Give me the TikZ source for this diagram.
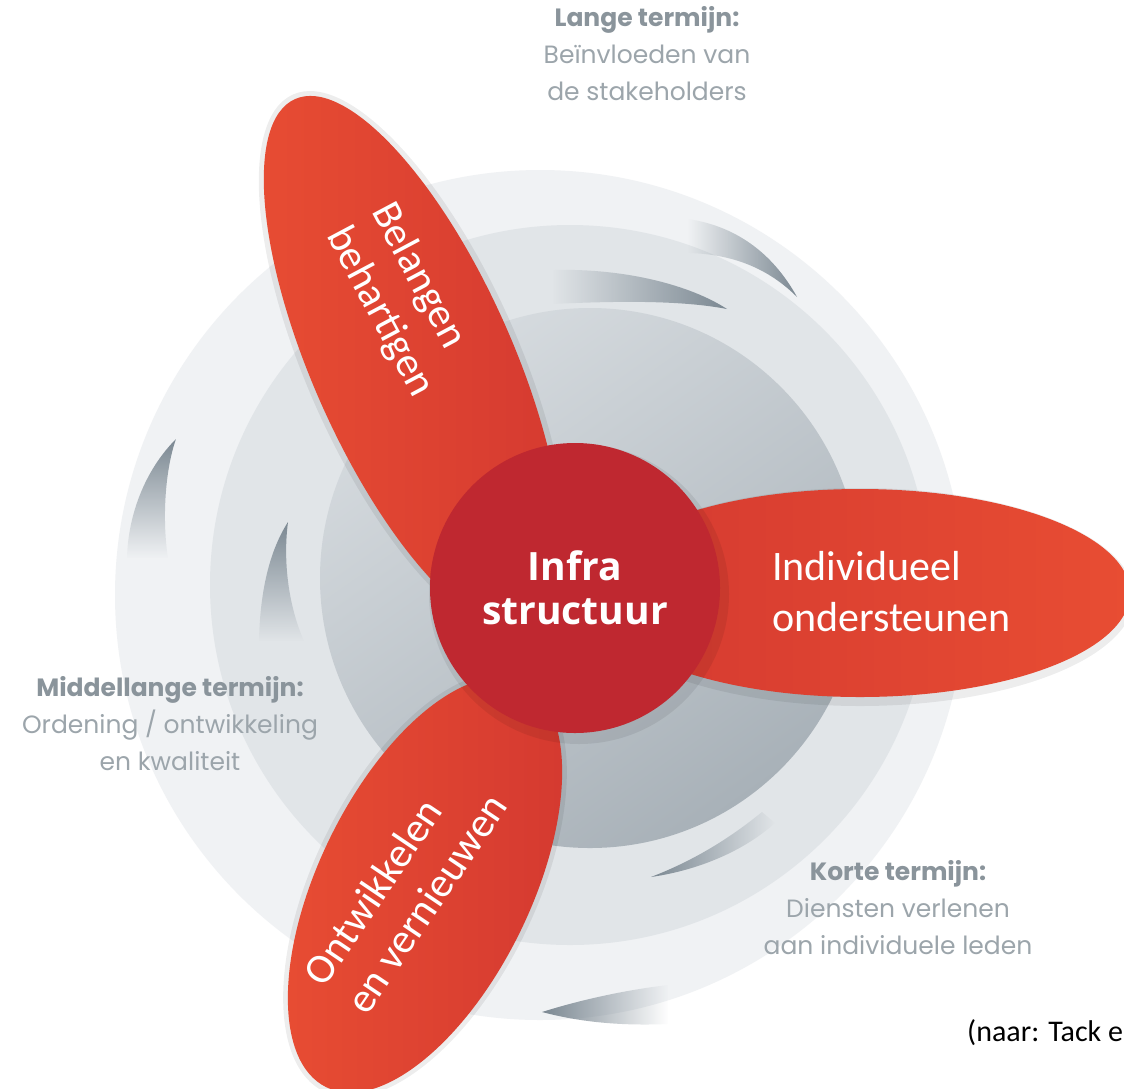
\documentclass[tikz,border=0pt]{standalone}
\usepackage{fontspec}
\setmainfont{Carlito}
\newfontfamily\termfont{Poppins}
\newfontfamily\hubfont{Open Sans}
\usetikzlibrary{fadings}
\definecolor{petalred}{HTML}{E84D33}
\definecolor{petaldeep}{HTML}{D43930}
\definecolor{hubred}{HTML}{BF2830}
\definecolor{ringpale}{HTML}{F0F2F4}
\definecolor{ringmid}{HTML}{E1E5E8}
\definecolor{ringlight}{HTML}{D6DBDF}
\definecolor{ringdark}{HTML}{A8B1B8}
\definecolor{swooshgray}{HTML}{7B8892}
\definecolor{termhead}{HTML}{8A949B}
\definecolor{termtext}{HTML}{9CA5AB}

\begin{document}
\begin{tikzpicture}[x=1pt, y=-1pt,
    halo/.style={fill=black, opacity=0.07},
    swoosh/.style={fill=swooshgray},
    petaltext/.style={text=white, align=left, inner sep=0pt, font=\fontsize{42}{51}\selectfont},
    term/.style={text=termtext, align=center, inner sep=0pt, font=\termfont\fontsize{25}{37}\selectfont},
    hub/.style={circle, fill=hubred, minimum size=290pt, inner sep=0pt, text=white, align=center,
                font=\hubfont\bfseries\fontsize{39}{44}\selectfont}]
  \useasboundingbox[fill=white] (0,0) rectangle (1124,1088);

  \fill[ringpale] (540,595) circle (425);
  \fill[ringmid] (570,585) circle (360);
  \shade[top color=ringlight, bottom color=ringdark, shading angle=35] (590,578) circle (270);

  \fill[swoosh, path fading=west] (688,219) .. controls (735,226) and (772,252) .. (797,297)
        .. controls (768,268) and (732,254) .. (688,253) -- cycle;
  \fill[swoosh, path fading=west] (552,270) .. controls (625,268) and (690,285) .. (727,309)
        .. controls (680,300) and (615,301) .. (552,304) -- cycle;
  \fill[swoosh, path fading=south] (127,558) .. controls (128,515) and (145,470) .. (176,439)
        .. controls (165,470) and (162,520) .. (168,558) -- cycle;
  \fill[swoosh, path fading=south] (259,641) .. controls (260,590) and (270,550) .. (288,522)
        .. controls (283,560) and (288,605) .. (304,641) -- cycle;
  \fill[swoosh, path fading=east] (651,877) .. controls (700,870) and (745,850) .. (775,823)
        -- (762,812) .. controls (730,838) and (695,860) .. (651,877) -- cycle;
  \fill[swoosh, path fading=east] (542,1012) .. controls (580,1000) and (625,990) .. (668,985)
        -- (668,1024) .. controls (620,1026) and (580,1022) .. (542,1012) -- cycle;

  \begin{scope}[shift={(413,364)}, rotate=-66]
    \fill[halo] (0,0) ellipse [x radius=295, y radius=106];
    \shade[left color=petalred, right color=petaldeep] (0,0) ellipse [x radius=290, y radius=100];
  \end{scope}
  \begin{scope}[shift={(860,593)}]
    \fill[halo] (0,4) ellipse [x radius=274, y radius=109];
    \shade[left color=petaldeep, right color=petalred] (0,0) ellipse [x radius=270, y radius=104];
  \end{scope}
  \begin{scope}[shift={(425,885)}, rotate=64]
    \fill[halo] (0,0) ellipse [x radius=230, y radius=111];
    \shade[left color=petalred, right color=petaldeep] (0,0) ellipse [x radius=225, y radius=106];
  \end{scope}

  \fill[halo] (579,594) circle (150);
  \node[hub] (infra) at (575,588) {Infra\\structuur};

  \node[petaltext, anchor=west] (support) at (772,592) {Individueel\\ondersteunen};
  \node[petaltext, rotate=-62] (interests) at (402,300) {Belangen\\behartigen};
  \node[petaltext, rotate=56] (develop) at (405,889) {Ontwikkelen\\en vernieuwen};

  \node[term] (longterm) at (647,54) {\textcolor{termhead}{\bfseries Lange termijn:}\\Beïnvloeden van\\de stakeholders};
  \node[term] (midterm) at (170,724) {\textcolor{termhead}{\bfseries Middellange termijn:}\\Ordening / ontwikkeling\\en kwaliteit};
  \node[term] (shortterm) at (898,908) {\textcolor{termhead}{\bfseries Korte termijn:}\\Diensten verlenen\\aan individuele leden};

  \node[anchor=west, inner sep=0pt, font=\fontsize{30}{36}\selectfont] (source) at (967,1033) {(naar: Tack e};
\end{tikzpicture}
\end{document}
